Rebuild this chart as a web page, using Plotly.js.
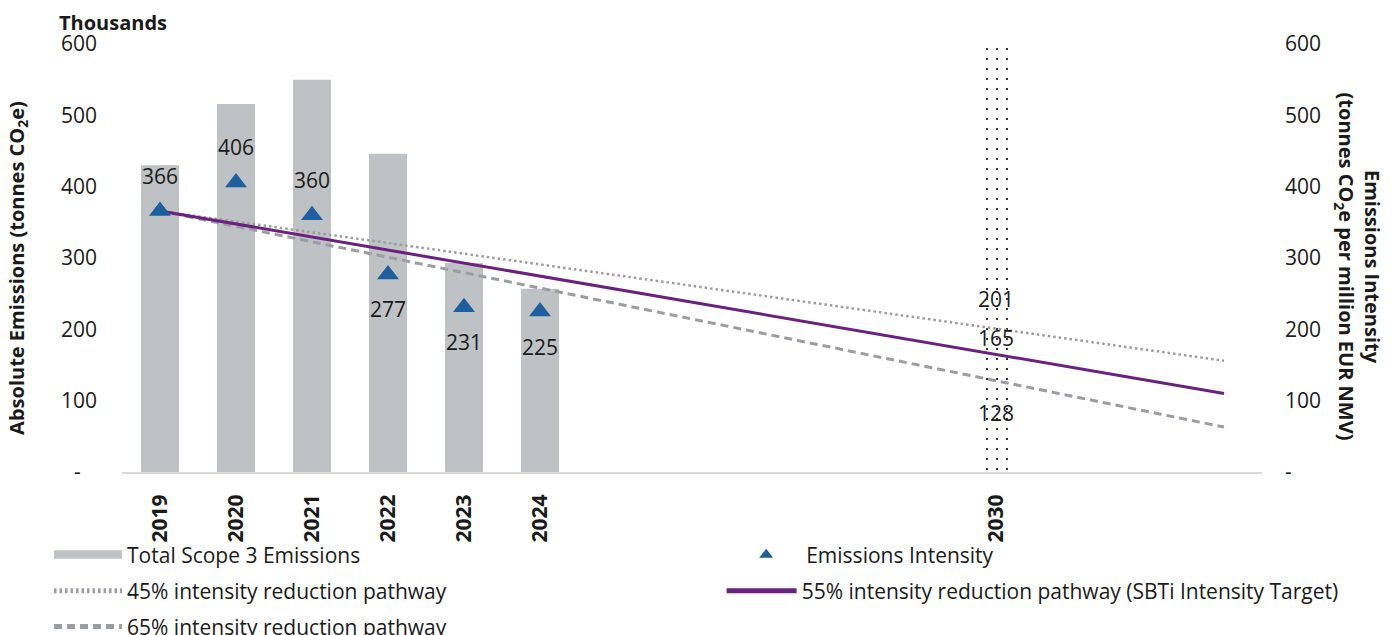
<!DOCTYPE html>
<html>
<head>
<meta charset="utf-8">
<script src="https://cdn.plot.ly/plotly-3.0.1.min.js"></script>
<style>html,body{margin:0;padding:0;background:#fff;}#chart{width:1396px;height:635px;}</style>
</head>
<body>
<div id="chart"></div>
<script>
// ---- data ----
const years = [2019, 2020, 2021, 2022, 2023, 2024];
const scope3Thousands = [430, 516, 550, 446, 293, 257];
const intensity = [366, 406, 360, 277, 231, 225];
const pathYears = [2019, 2030, 2033];
const path45 = [366, 201, 156];
const path55 = [366, 165, 110];
const path65 = [366, 128, 63];
const targetYear = [2030];
const targetBand = [600];
const xTickVals = [2019, 2020, 2021, 2022, 2023, 2024, 2030];
const yTickVals = [0, 100, 200, 300, 400, 500, 600];
const yTickTextLeft = ['-\u00a0\u00a0\u00a0', '100', '200', '300', '400', '500', '600'];
const yTickTextRight = ['-', '100', '200', '300', '400', '500', '600'];
const labelAbove = [true, true, true, false, false, false];
const targetLabelShift = [30, 16, -32];

const FONT = 'Open Sans, Noto Sans, sans-serif';
const TXT = '#1a1a1a';
const GREY_BAR = '#bfc2c5';
const BLUE = '#1f5f9f';
const PURPLE = '#6b2180';
const GREY_LINE = '#9a9da1';

const traces = [
  {type: 'bar', x: targetYear, y: targetBand, width: 0.42, showlegend: false, hoverinfo: 'skip',
   marker: {color: '#ffffff', line: {width: 0}, pattern: {shape: '.', fgcolor: '#000000', bgcolor: '#ffffff', size: 10, solidity: 0.035}}},
  {type: 'bar', x: years, y: scope3Thousands, width: 0.5, name: 'Total Scope 3 Emissions', showlegend: false,
   marker: {color: GREY_BAR, line: {width: 0}}},
  {type: 'scatter', mode: 'lines', x: pathYears, y: path45, name: '45% intensity reduction pathway', yaxis: 'y2',
   line: {color: GREY_LINE, width: 2.5, dash: '2.5px,3px'}, legend: 'legend3'},
  {type: 'scatter', mode: 'lines', x: pathYears, y: path65, name: '65% intensity reduction pathway', yaxis: 'y2',
   line: {color: GREY_LINE, width: 3, dash: '8px,5px'}, legend: 'legend5'},
  {type: 'scatter', mode: 'lines', x: pathYears, y: path55, name: '55% intensity reduction pathway (SBTi Intensity Target)', yaxis: 'y2',
   line: {color: PURPLE, width: 3}, legend: 'legend4'},
  {type: 'scatter', mode: 'markers', x: years, y: intensity, name: 'Emissions Intensity', yaxis: 'y2',
   marker: {symbol: 'triangle-up', size: 19, color: BLUE}, legend: 'legend2'},
  // legend key for the bar series (draws nothing on the plot)
  {type: 'scatter', mode: 'lines', x: [null], y: [null], name: 'Total Scope 3 Emissions', fill: 'toself',
   fillcolor: GREY_BAR, line: {color: GREY_BAR, width: 6}, legend: 'legend'}
];

const annotations = [];
years.forEach((yr, i) => {
  annotations.push({x: yr, y: intensity[i], xref: 'x', yref: 'y2', text: String(intensity[i]), showarrow: false,
    yshift: labelAbove[i] ? 35 : -35, font: {family: FONT, size: 21, color: TXT}});
});
const targetVals = [path45[1], path55[1], path65[1]];
targetVals.forEach((v, i) => {
  annotations.push({x: targetYear[0], y: v, xref: 'x', yref: 'y2', text: String(v), showarrow: false,
    yshift: targetLabelShift[i], font: {family: FONT, size: 21, color: TXT}});
});
annotations.push({xref: 'paper', yref: 'paper', x: -0.057, y: 1.051, xanchor: 'left', yanchor: 'middle',
  text: '<b>Thousands</b>', showarrow: false, font: {family: FONT, size: 20, color: TXT}});
annotations.push({xref: 'paper', yref: 'paper', x: -0.0912, y: 0.477, xanchor: 'center', yanchor: 'middle', textangle: -90,
  text: '<b>Absolute Emissions (tonnes CO<sub>2</sub>e)</b>', showarrow: false, font: {family: FONT, size: 20, color: TXT}});
annotations.push({xref: 'paper', yref: 'paper', x: 1.0842, y: 0.48, xanchor: 'center', yanchor: 'middle', textangle: 90,
  text: '<b>Emissions Intensity<br>(tonnes CO<sub>2</sub>e per million EUR NMV)</b>', showarrow: false,
  font: {family: FONT, size: 20, color: TXT}});

function leg(x, y, w) {
  return {x: x, y: y, xref: 'paper', yref: 'paper', xanchor: 'left', yanchor: 'middle', orientation: 'v',
    bgcolor: 'rgba(0,0,0,0)', borderwidth: 0, itemwidth: w, itemsizing: 'constant',
    font: {family: FONT, size: 21, color: TXT}};
}

const layout = {
  width: 1396, height: 635,
  margin: {l: 122, r: 134, t: 44, b: 163, autoexpand: false},
  paper_bgcolor: '#ffffff', plot_bgcolor: '#ffffff',
  font: {family: FONT, size: 21, color: TXT},
  barmode: 'overlay',
  xaxis: {range: [2018.5, 2033.5], tickmode: 'array', tickvals: xTickVals, ticktext: xTickVals.map(String),
    tickangle: -90, tickfont: {family: FONT, size: 21, color: TXT, weight: 'bold'}, ticks: '', ticklabelstandoff: 12,
    showgrid: false, zeroline: false, showline: true, linecolor: '#d9d9d9', linewidth: 2},
  yaxis: {range: [0, 600], tickmode: 'array', tickvals: yTickVals, ticktext: yTickTextLeft, ticks: '',
    showgrid: false, zeroline: false, showline: false, ticklabelstandoff: 24,
    tickfont: {family: FONT, size: 21, color: TXT}},
  yaxis2: {range: [0, 600], overlaying: 'y', side: 'right', tickmode: 'array', tickvals: yTickVals, ticktext: yTickTextRight,
    ticks: '', showgrid: false, zeroline: false, showline: false, ticklabelstandoff: 22,
    tickfont: {family: FONT, size: 21, color: TXT}},
  legend: leg(-0.064, -0.194, 68),
  legend2: leg(0.53, -0.194, 70),
  legend3: leg(-0.064, -0.278, 68),
  legend4: leg(0.526, -0.278, 70),
  legend5: leg(-0.064, -0.362, 68),
  annotations: annotations,
  showlegend: true
};

Plotly.newPlot('chart', traces, layout, {displayModeBar: false, staticPlot: true});
</script>
</body>
</html>
